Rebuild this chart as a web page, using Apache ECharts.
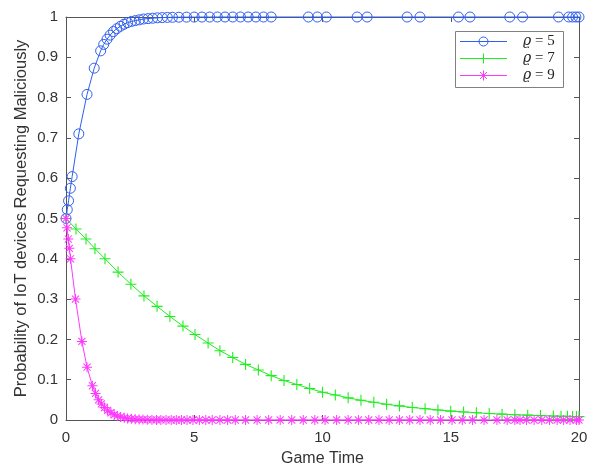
<!DOCTYPE html>
<html>
<head>
<meta charset="utf-8">
<script src="https://cdn.jsdelivr.net/npm/echarts@6/dist/echarts.min.js"></script>
<style>
  html, body { margin: 0; padding: 0; background: #ffffff; }
  #chart { width: 590px; height: 467px; }
</style>
</head>
<body>
<div id="chart"></div>
<script>
// Legend labels for the three parameter settings
const seriesNames = ['ϱ = 5', 'ϱ = 7', 'ϱ = 9'];

// ϱ = 5 : solver time steps and probabilities
const blueT = [0, 0.05, 0.1, 0.17, 0.24, 0.5, 0.82, 1.1, 1.35, 1.47, 1.6, 1.72, 1.85, 1.98, 2.12, 2.26, 2.4, 2.55, 2.7, 2.86,
  3.02, 3.2, 3.38, 3.56, 3.75, 3.95, 4.15, 4.4, 4.7, 5.0, 5.3, 5.6, 5.9, 6.2, 6.5, 6.8, 7.1, 7.4, 7.7, 8.0,
  9.45, 9.8, 10.15, 11.35, 11.74, 13.3, 13.8, 15.3, 15.75, 17.3, 17.8, 19.2, 19.6, 19.75, 19.88, 20];
const blueV = [0.5, 0.522, 0.544, 0.575, 0.604, 0.71, 0.808, 0.873, 0.916, 0.932, 0.945, 0.955, 0.964, 0.971, 0.977, 0.982, 0.986, 0.989, 0.991, 0.993,
  0.995, 0.996, 0.997, 0.998, 0.9985, 0.999, 0.9993, 0.9995, 0.9997, 0.9998, 0.9999, 0.9999, 1, 1, 1, 1, 1, 1, 1, 1,
  1, 1, 1, 1, 1, 1, 1, 1, 1, 1, 1, 1, 1, 1, 1, 1];

// ϱ = 7
const greenT = [0, 0.39, 0.78, 1.13, 1.52, 2.03, 2.53, 3.04, 3.55, 4.05, 4.56, 5.03, 5.54, 6.0, 6.5, 7.0, 7.5, 8.0, 8.5, 9.0,
  9.5, 10.0, 10.5, 11.0, 11.5, 12.0, 12.5, 13.0, 13.5, 14.0, 14.5, 15.0, 15.5, 16.0, 16.5, 17.0, 17.5, 18.0, 18.5, 19.0,
  19.3, 19.55, 19.75, 19.9, 20];
const greenV = [0.5, 0.474, 0.449, 0.425, 0.4, 0.367, 0.337, 0.308, 0.282, 0.257, 0.233, 0.212, 0.191, 0.172, 0.155, 0.138, 0.124, 0.11, 0.098, 0.088,
  0.078, 0.069, 0.062, 0.055, 0.049, 0.044, 0.039, 0.035, 0.031, 0.028, 0.025, 0.022, 0.02, 0.018, 0.016, 0.0145, 0.013, 0.012, 0.011, 0.0098,
  0.0093, 0.009, 0.0087, 0.0085, 0.0083];

// ϱ = 9
const magT = [0, 0.04, 0.09, 0.13, 0.176, 0.37, 0.62, 0.82, 1.03, 1.15, 1.27, 1.38, 1.5, 1.62, 1.75, 1.88, 2.0, 2.13, 2.27, 2.4,
  2.55, 2.7, 2.85, 3.0, 3.17, 3.35, 3.53, 3.7, 3.9, 4.1, 4.3, 4.5, 4.72, 4.95, 5.2, 5.45, 5.7, 6.0, 6.3, 6.6,
  7.0, 7.45, 7.9, 8.35, 8.8, 9.25, 9.7, 10.1, 10.55, 11.0, 11.4, 11.8, 12.2, 12.6, 13.0, 13.4, 13.8, 14.2, 14.6, 15.05,
  15.45, 15.85, 16.3, 16.8, 17.2, 17.5, 17.7, 17.95, 18.25, 18.55, 18.85, 19.15, 19.4, 19.65, 19.9, 20];
const magV = [0.5, 0.477, 0.449, 0.426, 0.4, 0.3, 0.195, 0.131, 0.085, 0.066, 0.05, 0.04, 0.031, 0.024, 0.018, 0.013, 0.01, 0.0075, 0.0055, 0.004,
  0.003, 0.002, 0.0014, 0.001, 0.0007, 0.0005, 0.0003, 0.0002, 0.0001, 0, 0, 0, 0, 0, 0, 0, 0, 0, 0, 0,
  0, 0, 0, 0, 0, 0, 0, 0, 0, 0, 0, 0, 0, 0, 0, 0, 0, 0, 0, 0,
  0, 0, 0, 0, 0, 0, 0, 0, 0, 0, 0, 0, 0, 0, 0, 0];

const zip = (t, v) => t.map((x, i) => [x, v[i]]);

// Marker shapes drawn as thin filled bars (same winding so overlaps stay filled)
const plusPath = 'path://M-1,-10 L-1,10 L1,10 L1,-10 Z M-10,-1 L-10,1 L10,1 L10,-1 Z';
const starPath = 'path://M-1,-10 L-1,10 L1,10 L1,-10 Z M-10,-1 L-10,1 L10,1 L10,-1 Z ' +
  'M6.36,7.78 L7.78,6.36 L-6.36,-7.78 L-7.78,-6.36 Z M-6.36,7.78 L7.78,-6.36 L6.36,-7.78 L-7.78,6.36 Z';

const axisColor = '#555555';
const textColor = '#333333';
const fontFamily = '"Liberation Sans", Arial, Helvetica, sans-serif';
const colors = ['#2f5ff2', '#1fee1f', '#ff38ff'];

// Boxed legend in the upper right corner: line sample, marker, label
function buildLegend() {
  const box = { x: 455.5, y: 31.5, w: 108, h: 56 };
  const rows = [41.5, 58.5, 75.5];
  const lineX0 = 460, lineX1 = 507, mx = 483.5;
  const children = [{
    type: 'rect',
    shape: { x: box.x, y: box.y, width: box.w, height: box.h },
    style: { fill: '#ffffff', stroke: '#808080', lineWidth: 1 }
  }];
  seriesNames.forEach((name, i) => {
    const y = rows[i];
    const stroke = { stroke: colors[i], lineWidth: 1 };
    children.push({ type: 'line', shape: { x1: lineX0, y1: y, x2: lineX1, y2: y }, style: stroke });
    if (i === 0) {
      children.push({ type: 'circle', shape: { cx: mx, cy: y, r: 4.5 }, style: { fill: 'none', ...stroke } });
    } else {
      const r = 5;
      children.push({ type: 'line', shape: { x1: mx, y1: y - r, x2: mx, y2: y + r }, style: stroke });
      if (i === 2) {
        const d = 3.5;
        children.push({ type: 'line', shape: { x1: mx - d, y1: y - d, x2: mx + d, y2: y + d }, style: stroke });
        children.push({ type: 'line', shape: { x1: mx - d, y1: y + d, x2: mx + d, y2: y - d }, style: stroke });
      }
    }
    const value = name.split('= ')[1];
    children.push({
      type: 'text',
      style: { text: 'ϱ', x: 523, y: y, verticalAlign: 'middle', fill: '#222',
        font: 'italic 14px "DejaVu Serif", serif' }
    });
    children.push({
      type: 'text',
      style: { text: '= ' + value, x: 535, y: y, verticalAlign: 'middle', fill: '#222',
        font: '15px "Liberation Serif", "DejaVu Serif", serif' }
    });
  });
  return { type: 'group', z: 100, children };
}

const chart = echarts.init(document.getElementById('chart'), null, { renderer: 'canvas' });

chart.setOption({
  animation: false,
  backgroundColor: '#ffffff',
  grid: { left: 66, right: 11, top: 17, bottom: 47, containLabel: false, outerBoundsMode: 'none' },
  graphic: [buildLegend()],
  xAxis: [{
    type: 'value', min: 0, max: 20, interval: 5, position: 'bottom',
    name: 'Game Time', nameLocation: 'middle', nameGap: 31, nameMoveOverlap: false,
    nameTextStyle: { fontFamily, fontSize: 16, color: textColor },
    axisLine: { onZero: false, lineStyle: { color: axisColor, width: 1 } },
    axisTick: { inside: true, length: 5, lineStyle: { color: axisColor } },
    axisLabel: { fontFamily, fontSize: 15, color: textColor, margin: 10 },
    splitLine: { show: false }
  }, {
    type: 'value', min: 0, max: 20, interval: 5, position: 'top',
    axisLine: { onZero: false, lineStyle: { color: axisColor, width: 1 } },
    axisTick: { inside: true, length: 5, lineStyle: { color: axisColor } },
    axisLabel: { show: false },
    splitLine: { show: false }
  }],
  yAxis: [{
    type: 'value', min: 0, max: 1, interval: 0.1, position: 'left',
    name: 'Probability of IoT devices Requesting Maliciously', nameLocation: 'middle', nameGap: 36, nameMoveOverlap: false,
    nameTextStyle: { fontFamily, fontSize: 16.5, color: textColor },
    axisLine: { show: true, onZero: false, lineStyle: { color: axisColor, width: 1 } },
    axisTick: { show: true, inside: true, length: 5, lineStyle: { color: axisColor } },
    axisLabel: { fontFamily, fontSize: 15, color: textColor, margin: 8,
      formatter: v => String(Math.round(v * 10) / 10) },
    splitLine: { show: false }
  }, {
    type: 'value', min: 0, max: 1, interval: 0.1, position: 'right',
    axisLine: { show: true, onZero: false, lineStyle: { color: axisColor, width: 1 } },
    axisTick: { show: true, inside: true, length: 5, lineStyle: { color: axisColor } },
    axisLabel: { show: false },
    splitLine: { show: false }
  }],
  series: [{
    name: seriesNames[0], type: 'line', data: zip(blueT, blueV),
    symbol: 'circle', symbolSize: 10, showAllSymbol: true, clip: false,
    lineStyle: { color: colors[0], width: 1 },
    itemStyle: { color: 'rgba(0,0,0,0)', borderColor: colors[0], borderWidth: 1 }
  }, {
    name: seriesNames[1], type: 'line', data: zip(greenT, greenV),
    symbol: plusPath, symbolSize: 11, showAllSymbol: true, clip: false,
    lineStyle: { color: colors[1], width: 1 },
    itemStyle: { color: colors[1], borderWidth: 0 }
  }, {
    name: seriesNames[2], type: 'line', data: zip(magT, magV),
    symbol: starPath, symbolSize: 10, showAllSymbol: true, clip: false,
    lineStyle: { color: colors[2], width: 1 },
    itemStyle: { color: colors[2], borderWidth: 0 }
  }]
});
</script>
</body>
</html>
